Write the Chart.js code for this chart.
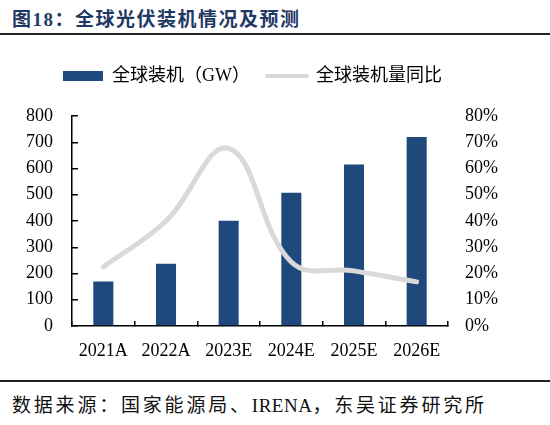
<!DOCTYPE html>
<html><head><meta charset="utf-8">
<script src="https://cdn.jsdelivr.net/npm/chart.js@4/dist/chart.umd.min.js"></script>
<style>
body{margin:0;width:550px;height:425px;background:#fff;position:relative;overflow:hidden;font-family:"Liberation Serif","Noto Sans CJK SC",serif;}
#title{position:absolute;left:12px;top:4px;font-size:19px;letter-spacing:1.5px;font-weight:bold;color:#1f3864;white-space:nowrap;}
.rule{position:absolute;left:0;width:550px;height:2px;background:#222;}
#src{position:absolute;left:12px;top:390px;font-size:19px;letter-spacing:2.8px;color:#111;white-space:nowrap;}
#src span{letter-spacing:0.5px;}
#wrap{position:absolute;left:0;top:50px;width:550px;height:320px;}
</style></head><body>
<div id="title">图18：全球光伏装机情况及预测</div>
<div class="rule" style="top:33px"></div>
<div id="wrap"><canvas id="c"></canvas></div>
<div class="rule" style="top:380px"></div>
<div id="src">数据来源：国家能源局、<span>IRENA</span>，东吴证券研究所</div>
<script>
const categories = ["2021A", "2022A", "2023E", "2024E", "2025E", "2026E"];
const installedGW = [170, 237, 401, 508, 615, 720];
const yoyPct = [22.5, 40, 67.7, 24.4, 21, 16.8];
const seriesNames = ["全球装机（GW）", "全球装机量同比"];
const leftAxis = {min: 0, max: 800, step: 100};
const rightAxis = {min: 0, max: 80, step: 10};

const barColor = "#1F497D";
const lineColor = "#D9D9D9";
const fontFam = '"Liberation Serif","Noto Sans CJK SC",serif';

const legendSpacer = {
  id: "legendSpacer",
  afterInit(chart) {
    const fit = chart.legend.fit;
    chart.legend.fit = function () { fit.call(this); this.height += 21; };
  }
};

new Chart(document.getElementById("c"), {
  data: {
    labels: categories,
    datasets: [
      {type: "bar", label: seriesNames[0], data: installedGW, backgroundColor: barColor,
       yAxisID: "y", order: 1, categoryPercentage: 0.32, barPercentage: 1},
      {type: "line", label: seriesNames[1], data: yoyPct, borderColor: lineColor, borderWidth: 5,
       yAxisID: "y1", order: 0, tension: 0.4, pointRadius: 0, fill: false, borderCapStyle: "round"}
    ]
  },
  options: {
    responsive: true, maintainAspectRatio: false, animation: false,
    layout: {padding: {left: 0, right: 45, top: 0, bottom: 0}},
    plugins: {
      tooltip: {enabled: false},
      legend: {
        position: "top",
        labels: {
          usePointStyle: true, pointStyleWidth: 40, boxHeight: 10, padding: 17,
          color: "#000", font: {family: fontFam, size: 18},
          generateLabels: () => [
            {text: seriesNames[0], fillStyle: barColor, strokeStyle: barColor, lineWidth: 0, pointStyle: "rect", datasetIndex: 0, hidden: false, fontColor: "#000"},
            {text: seriesNames[1], fillStyle: lineColor, strokeStyle: lineColor, lineWidth: 4, lineCap: "round", pointStyle: "line", datasetIndex: 1, hidden: false, fontColor: "#000"}
          ]
        }
      }
    },
    scales: {
      x: {
        grid: {offset: true, drawOnChartArea: false, drawTicks: true, tickLength: -5, color: "#000", lineWidth: 1.5},
        border: {color: "#000", width: 1.5},
        ticks: {color: "#000", font: {family: fontFam, size: 18}, padding: 19, maxRotation: 0},
        afterFit: s => { s.height = 44; }
      },
      y: {
        position: "left", min: leftAxis.min, max: leftAxis.max,
        grid: {drawOnChartArea: false, drawTicks: true, tickLength: -6, color: "#000", lineWidth: 1.5},
        border: {color: "#000", width: 1.5},
        ticks: {stepSize: leftAxis.step, color: "#000", font: {family: fontFam, size: 18}, padding: 25},
        afterFit: s => { s.width = 72; }
      },
      y1: {
        position: "right", min: rightAxis.min, max: rightAxis.max,
        grid: {display: false, drawTicks: false, drawOnChartArea: false},
        border: {display: false},
        ticks: {stepSize: rightAxis.step, color: "#000", font: {family: fontFam, size: 18}, padding: 17,
                callback: v => v + "%"},
        afterFit: s => { s.width = 57; }
      }
    }
  },
  plugins: [legendSpacer]
});
</script>
</body></html>
